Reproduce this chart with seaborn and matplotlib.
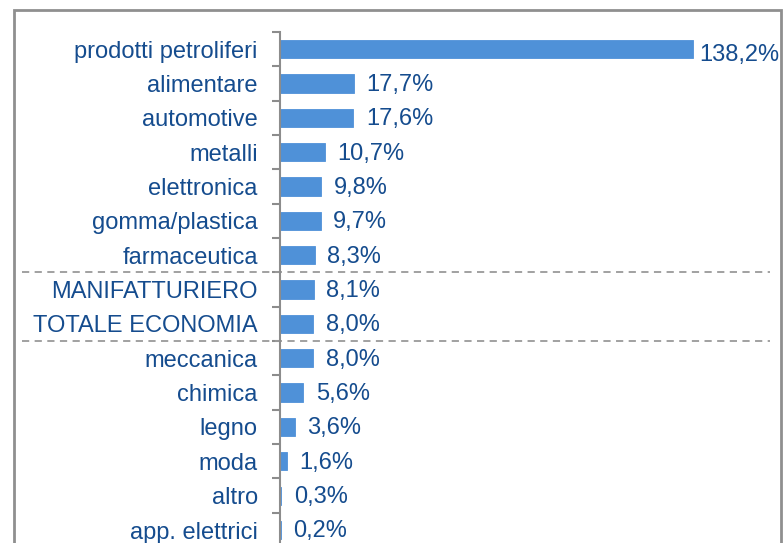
import numpy as np
import pandas as pd
import matplotlib.pyplot as plt
import matplotlib.patches as patches
import seaborn as sns

categories = [
    "prodotti petroliferi", "alimentare", "automotive", "metalli",
    "elettronica", "gomma/plastica", "farmaceutica", "MANIFATTURIERO",
    "TOTALE ECONOMIA", "meccanica", "chimica", "legno", "moda", "altro",
    "app. elettrici",
]
values = [138.2, 17.7, 17.6, 10.7, 9.8, 9.7, 8.3, 8.1, 8.0, 8.0, 5.6, 3.6, 1.6, 0.3, 0.2]
labels = ["138,2%", "17,7%", "17,6%", "10,7%", "9,8%", "9,7%", "8,3%", "8,1%",
          "8,0%", "8,0%", "5,6%", "3,6%", "1,6%", "0,3%", "0,2%"]

# the big bar is cut off (broken axis in the original)
cap = 99
df = pd.DataFrame({"cat": categories, "val": np.minimum(values, cap)})

bar_color = "#4F91D8"
text_color = "#154C8E"
grey = "#8C8C8C"
fs = 17

sns.set_style("white")
plt.rcParams["font.family"] = ["Liberation Sans", "DejaVu Sans"]

fig = plt.figure(figsize=(7.83, 5.43), dpi=100)
ax = fig.add_axes([0.3576, -0.0077, 0.64, 0.949])

sns.barplot(data=df, x="val", y="cat", color=bar_color, saturation=1,
            width=0.53, edgecolor=bar_color, linewidth=0.6, ax=ax)

ax.set_xlim(0, 120)
ax.set_ylim(len(categories) - 0.5, -0.5)
ax.set_xlabel("")
ax.set_ylabel("")
ax.set_xticks([])

for s in ["top", "right", "bottom"]:
    ax.spines[s].set_visible(False)
ax.spines["left"].set_color(grey)
ax.spines["left"].set_linewidth(1.5)

ax.tick_params(axis="y", which="major", left=False, length=0, pad=16,
               labelsize=fs, labelcolor=text_color)
ax.set_yticks(np.arange(len(categories) + 1) - 0.5, minor=True)
ax.tick_params(axis="y", which="minor", left=True, length=6, width=1.5,
               color=grey)

for i, (v, lab) in enumerate(zip(df["val"], labels)):
    if values[i] > cap:
        ax.annotate(lab, (v, i), xytext=(4, -4), textcoords="offset points",
                    va="center", ha="left", fontsize=fs, color=text_color,
                    annotation_clip=False)
    else:
        ax.annotate(lab, (v, i), xytext=(9, -1), textcoords="offset points",
                    va="center", ha="left", fontsize=fs, color=text_color)

# dashed separators around the aggregate rows
for y in [6.5, 8.5]:
    ax.axhline(y, xmin=-0.515, xmax=0.978, color="#9A9A9A", lw=1.3,
               ls=(0, (4, 3)), clip_on=False)

# outer frame
fig.patches.append(patches.Rectangle((14 / 783, -0.05), 767 / 783, 1.05 - 10 / 543,
                                     transform=fig.transFigure, fill=False,
                                     edgecolor="#8F8F8F", lw=2))

fig.savefig("out.png", dpi=100)
